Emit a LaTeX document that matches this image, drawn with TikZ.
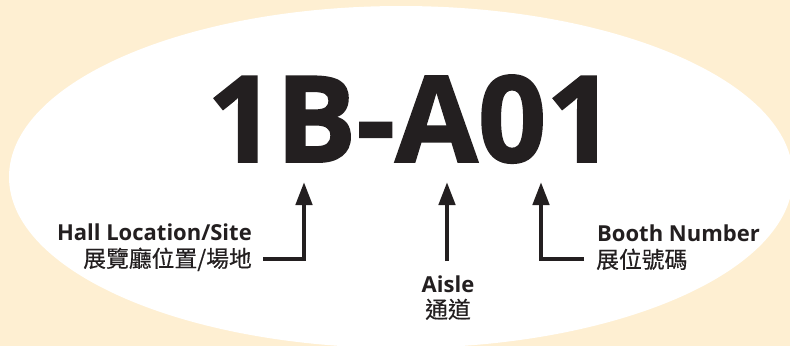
\documentclass[tikz,border=0pt]{standalone}
\usepackage{fontspec}
\usetikzlibrary{arrows.meta}
\newfontfamily\labfont{Open Sans}
\newfontfamily\bigfont{Open Sans}[UprightFont=* Bold, FakeBold=1.5]
\newfontfamily\cjkfont{Noto Sans CJK TC}[FakeBold=0.4]
\definecolor{bgc}{RGB}{254,239,210}
\definecolor{ink}{RGB}{35,31,32}
\begin{document}
\begin{tikzpicture}[x=1pt,y=-1pt,
  conn/.style={draw=ink,line width=4.5pt,-{Triangle[width=16pt,length=23pt]}},
  entext/.style={font=\labfont\bfseries\fontsize{22}{24}\selectfont, text=ink, inner sep=0pt},
  cntext/.style={font=\cjkfont\fontsize{22.8}{24}\selectfont, text=ink, inner sep=0pt}]
\useasboundingbox (0,0) rectangle (790,346);
\begin{scope}
\clip (0,0) rectangle (790,346);
\fill[bgc] (0,0) rectangle (790,346);
\fill[white] (401,177) ellipse [x radius=392pt, y radius=171pt];
\end{scope}
\node[font=\bigfont\fontsize{120}{120}\selectfont, text=ink, inner sep=0pt, anchor=base] (code) at (411,162) {1B-A01};
\node[entext, anchor=base east] (hallen) at (252,240) {Hall Location/Site};
\node[cntext, anchor=base east] (hallcn) at (252,267) {展覽廳位置/場地};
\node[entext, anchor=base west] (boothen) at (597,241) {Booth Number};
\node[cntext, anchor=base west] (boothcn) at (596,268) {展位號碼};
\node[entext, anchor=base] (aislen) at (448,292) {Aisle};
\node[cntext, anchor=base] (aislecn) at (448,318) {通道};
\coordinate (tipB) at (304,182);
\coordinate (tipA) at (447,182);
\coordinate (tipO) at (541,182);
\coordinate (hallend) at (263,259);
\coordinate (aisleend) at (447,261);
\coordinate (boothend) at (584,259);
\draw[conn] (hallend) -| (tipB);
\draw[conn] (aisleend) -- (tipA);
\draw[conn] (boothend) -| (tipO);
\end{tikzpicture}
\end{document}
